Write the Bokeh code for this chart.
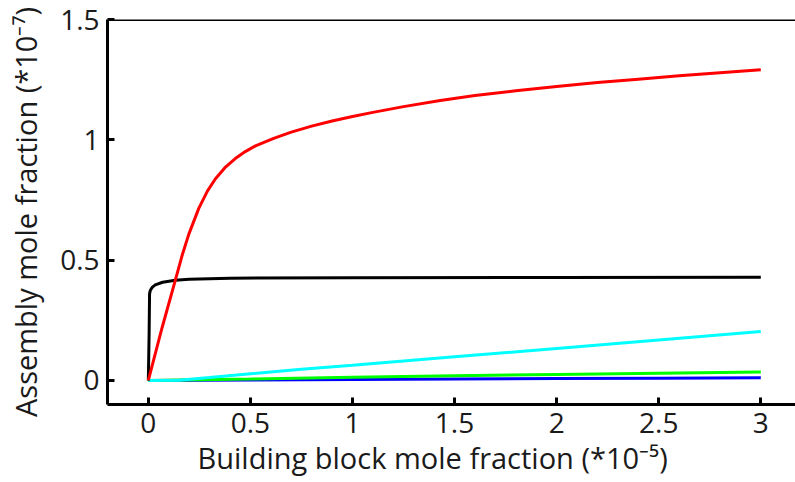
from bokeh.plotting import figure
from bokeh.models import Range1d, FixedTicker, Span, Title
from bokeh.embed import file_html
from bokeh.resources import INLINE

# Building block mole fraction (*1e-5) vs assembly mole fraction (*1e-7)
red_x = [0, 0.067, 0.132, 0.165, 0.198, 0.247, 0.29, 0.328, 0.375, 0.426, 0.475, 0.525, 0.614, 0.7, 0.8, 0.9,
         1.0, 1.1, 1.25, 1.43, 1.6, 1.8, 2.0, 2.2, 2.4, 2.6, 2.8, 3.0]
red_y = [0, 0.218, 0.416, 0.518, 0.607, 0.715, 0.788, 0.837, 0.884, 0.922, 0.951, 0.975, 1.006, 1.032, 1.057, 1.078,
         1.097, 1.114, 1.138, 1.163, 1.184, 1.204, 1.222, 1.238, 1.252, 1.266, 1.279, 1.291]

black_x = [0, 0.004, 0.006, 0.01, 0.02, 0.034, 0.07, 0.132, 0.2, 0.4, 1.0, 2.0, 3.0]
black_y = [0, 0.2, 0.36, 0.375, 0.388, 0.397, 0.408, 0.416, 0.421, 0.425, 0.427, 0.428, 0.429]

cyan_x = [0, 0.15, 0.3, 0.5, 0.75, 1.0, 1.5, 2.0, 2.5, 3.0]
cyan_y = [0, 0.001, 0.012, 0.028, 0.046, 0.063, 0.098, 0.133, 0.168, 0.203]

green_x = [0, 0.5, 1.0, 1.5, 2.0, 2.5, 3.0]
green_y = [0, 0.006, 0.013, 0.019, 0.025, 0.030, 0.035]

blue_x = [0, 0.5, 1.0, 1.5, 2.0, 2.5, 3.0]
blue_y = [0, 0.002, 0.004, 0.006, 0.008, 0.0095, 0.011]

x_ticks = [0, 0.5, 1, 1.5, 2, 2.5, 3]
y_ticks = [0, 0.5, 1, 1.5]
x_tick_labels = ["0", "0.5", "1", "1.5", "2", "2.5", "3"]
y_tick_labels = ["0", "0.5", "1", "1.5"]

x_title = "Building block mole fraction (*10\u207b\u2075)"
y_title = "Assembly mole fraction (*10\u207b\u2077)"

FONT = "Open Sans"
TXT = "#1a1a1a"

p = figure(width=795, height=482, output_backend="svg", toolbar_location=None,
           x_range=Range1d(-0.2, 3.17), y_range=Range1d(-0.1, 1.5),
           min_border_left=107, min_border_right=0, min_border_top=19, min_border_bottom=78)
p.outline_line_color = None
p.xgrid.visible = False
p.ygrid.visible = False

p.line(blue_x, blue_y, line_color="#0000ff", line_width=3)
p.line(green_x, green_y, line_color="#00ff00", line_width=3)
p.line(cyan_x, cyan_y, line_color="#00ffff", line_width=3)
p.line(black_x, black_y, line_color="black", line_width=3)
p.line(red_x, red_y, line_color="#ff0000", line_width=3)

p.add_layout(Span(location=1.5, dimension="width", line_color="black", line_width=3))

p.xaxis.ticker = FixedTicker(ticks=x_ticks)
p.yaxis.ticker = FixedTicker(ticks=y_ticks)
p.xaxis.major_label_overrides = dict(zip(x_ticks, x_tick_labels))
p.yaxis.major_label_overrides = dict(zip(y_ticks, y_tick_labels))

for ax in (p.xaxis, p.yaxis):
    ax.axis_line_width = 3
    ax.axis_line_color = "black"
    ax.major_tick_in = 7
    ax.major_tick_out = 0
    ax.major_tick_line_width = 3
    ax.minor_tick_line_color = None
    ax.major_label_text_font = FONT
    ax.major_label_text_font_size = "28px"
    ax.major_label_text_color = TXT

p.yaxis.axis_label = y_title
p.yaxis.axis_label_text_font = FONT
p.yaxis.axis_label_text_font_size = "29px"
p.yaxis.axis_label_text_font_style = "normal"
p.yaxis.axis_label_text_color = TXT
p.yaxis.axis_label_standoff = 12

p.xaxis.major_label_standoff = 8
p.yaxis.major_label_standoff = 8

p.add_layout(Title(text=x_title, align="left", offset=90, text_font=FONT, text_font_size="29px",
                   text_font_style="normal", text_color=TXT, standoff=0), "below")

open("out.html", "w").write(file_html(p, INLINE))
